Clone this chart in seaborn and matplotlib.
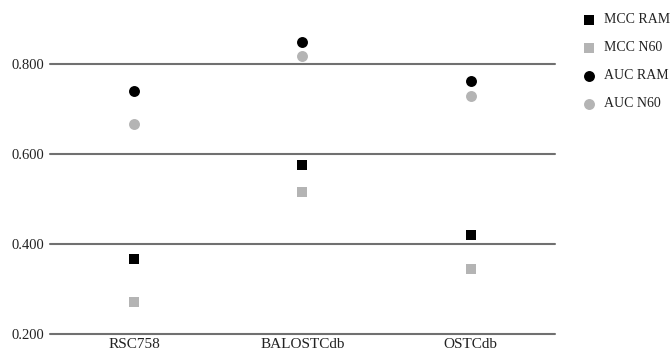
import matplotlib
matplotlib.use("Agg")
import matplotlib.pyplot as plt
import seaborn as sns
import pandas as pd

datasets = ["RSC758", "BALOSTCdb", "OSTCdb"]
mcc_ram = [0.366, 0.575, 0.421]
mcc_n60 = [0.272, 0.515, 0.344]
auc_ram = [0.741, 0.849, 0.762]
auc_n60 = [0.667, 0.819, 0.730]
series_names = ["MCC RAM", "MCC N60", "AUC RAM", "AUC N60"]
yticks = [0.2, 0.4, 0.6, 0.8]
ytick_labels = ["0.200", "0.400", "0.600", "0.800"]

sns.set_style("white")
plt.rcParams["font.family"] = ["Liberation Serif", "DejaVu Serif"]

fig = plt.figure(figsize=(6.71, 3.54), dpi=100)
ax = fig.add_axes([0.0745, 0.0565, 0.7525, 0.8895])

styles = [
    (mcc_ram, "s", "#000000", 48),
    (mcc_n60, "s", "#b4b4b4", 48),
    (auc_ram, "o", "#000000", 62),
    (auc_n60, "o", "#b4b4b4", 62),
]
for name, (vals, mk, col, sz) in zip(series_names, styles):
    df = pd.DataFrame({"dataset": datasets, "value": vals})
    sns.scatterplot(data=df, x="dataset", y="value", marker=mk, color=col,
                    s=sz, linewidth=0, ax=ax, label=name, zorder=3)

ax.set_xlim(-0.5, 2.5)
ax.set_ylim(0.2, 0.9)
ax.set_yticks(yticks)
ax.set_yticklabels(ytick_labels)
for y in yticks:
    ax.axhline(y, color="#707070", linewidth=1.5, zorder=1, clip_on=False)
for s in ax.spines.values():
    s.set_visible(False)
ax.set_xlabel("")
ax.set_ylabel("")
ax.tick_params(axis="y", length=0, pad=4, labelsize=10.5, colors="#222222")
ax.tick_params(axis="x", length=0, pad=3, labelsize=11, colors="#222222")

leg = ax.legend(loc="upper left", bbox_to_anchor=(0.866, 0.962),
                bbox_transform=fig.transFigure, frameon=False,
                fontsize=10, labelspacing=1.08, handlelength=1.1,
                handletextpad=0.55, borderpad=0, borderaxespad=0,
                markerscale=1.0)
for t in leg.get_texts():
    t.set_color("#222222")

fig.savefig("out.png", dpi=100)
